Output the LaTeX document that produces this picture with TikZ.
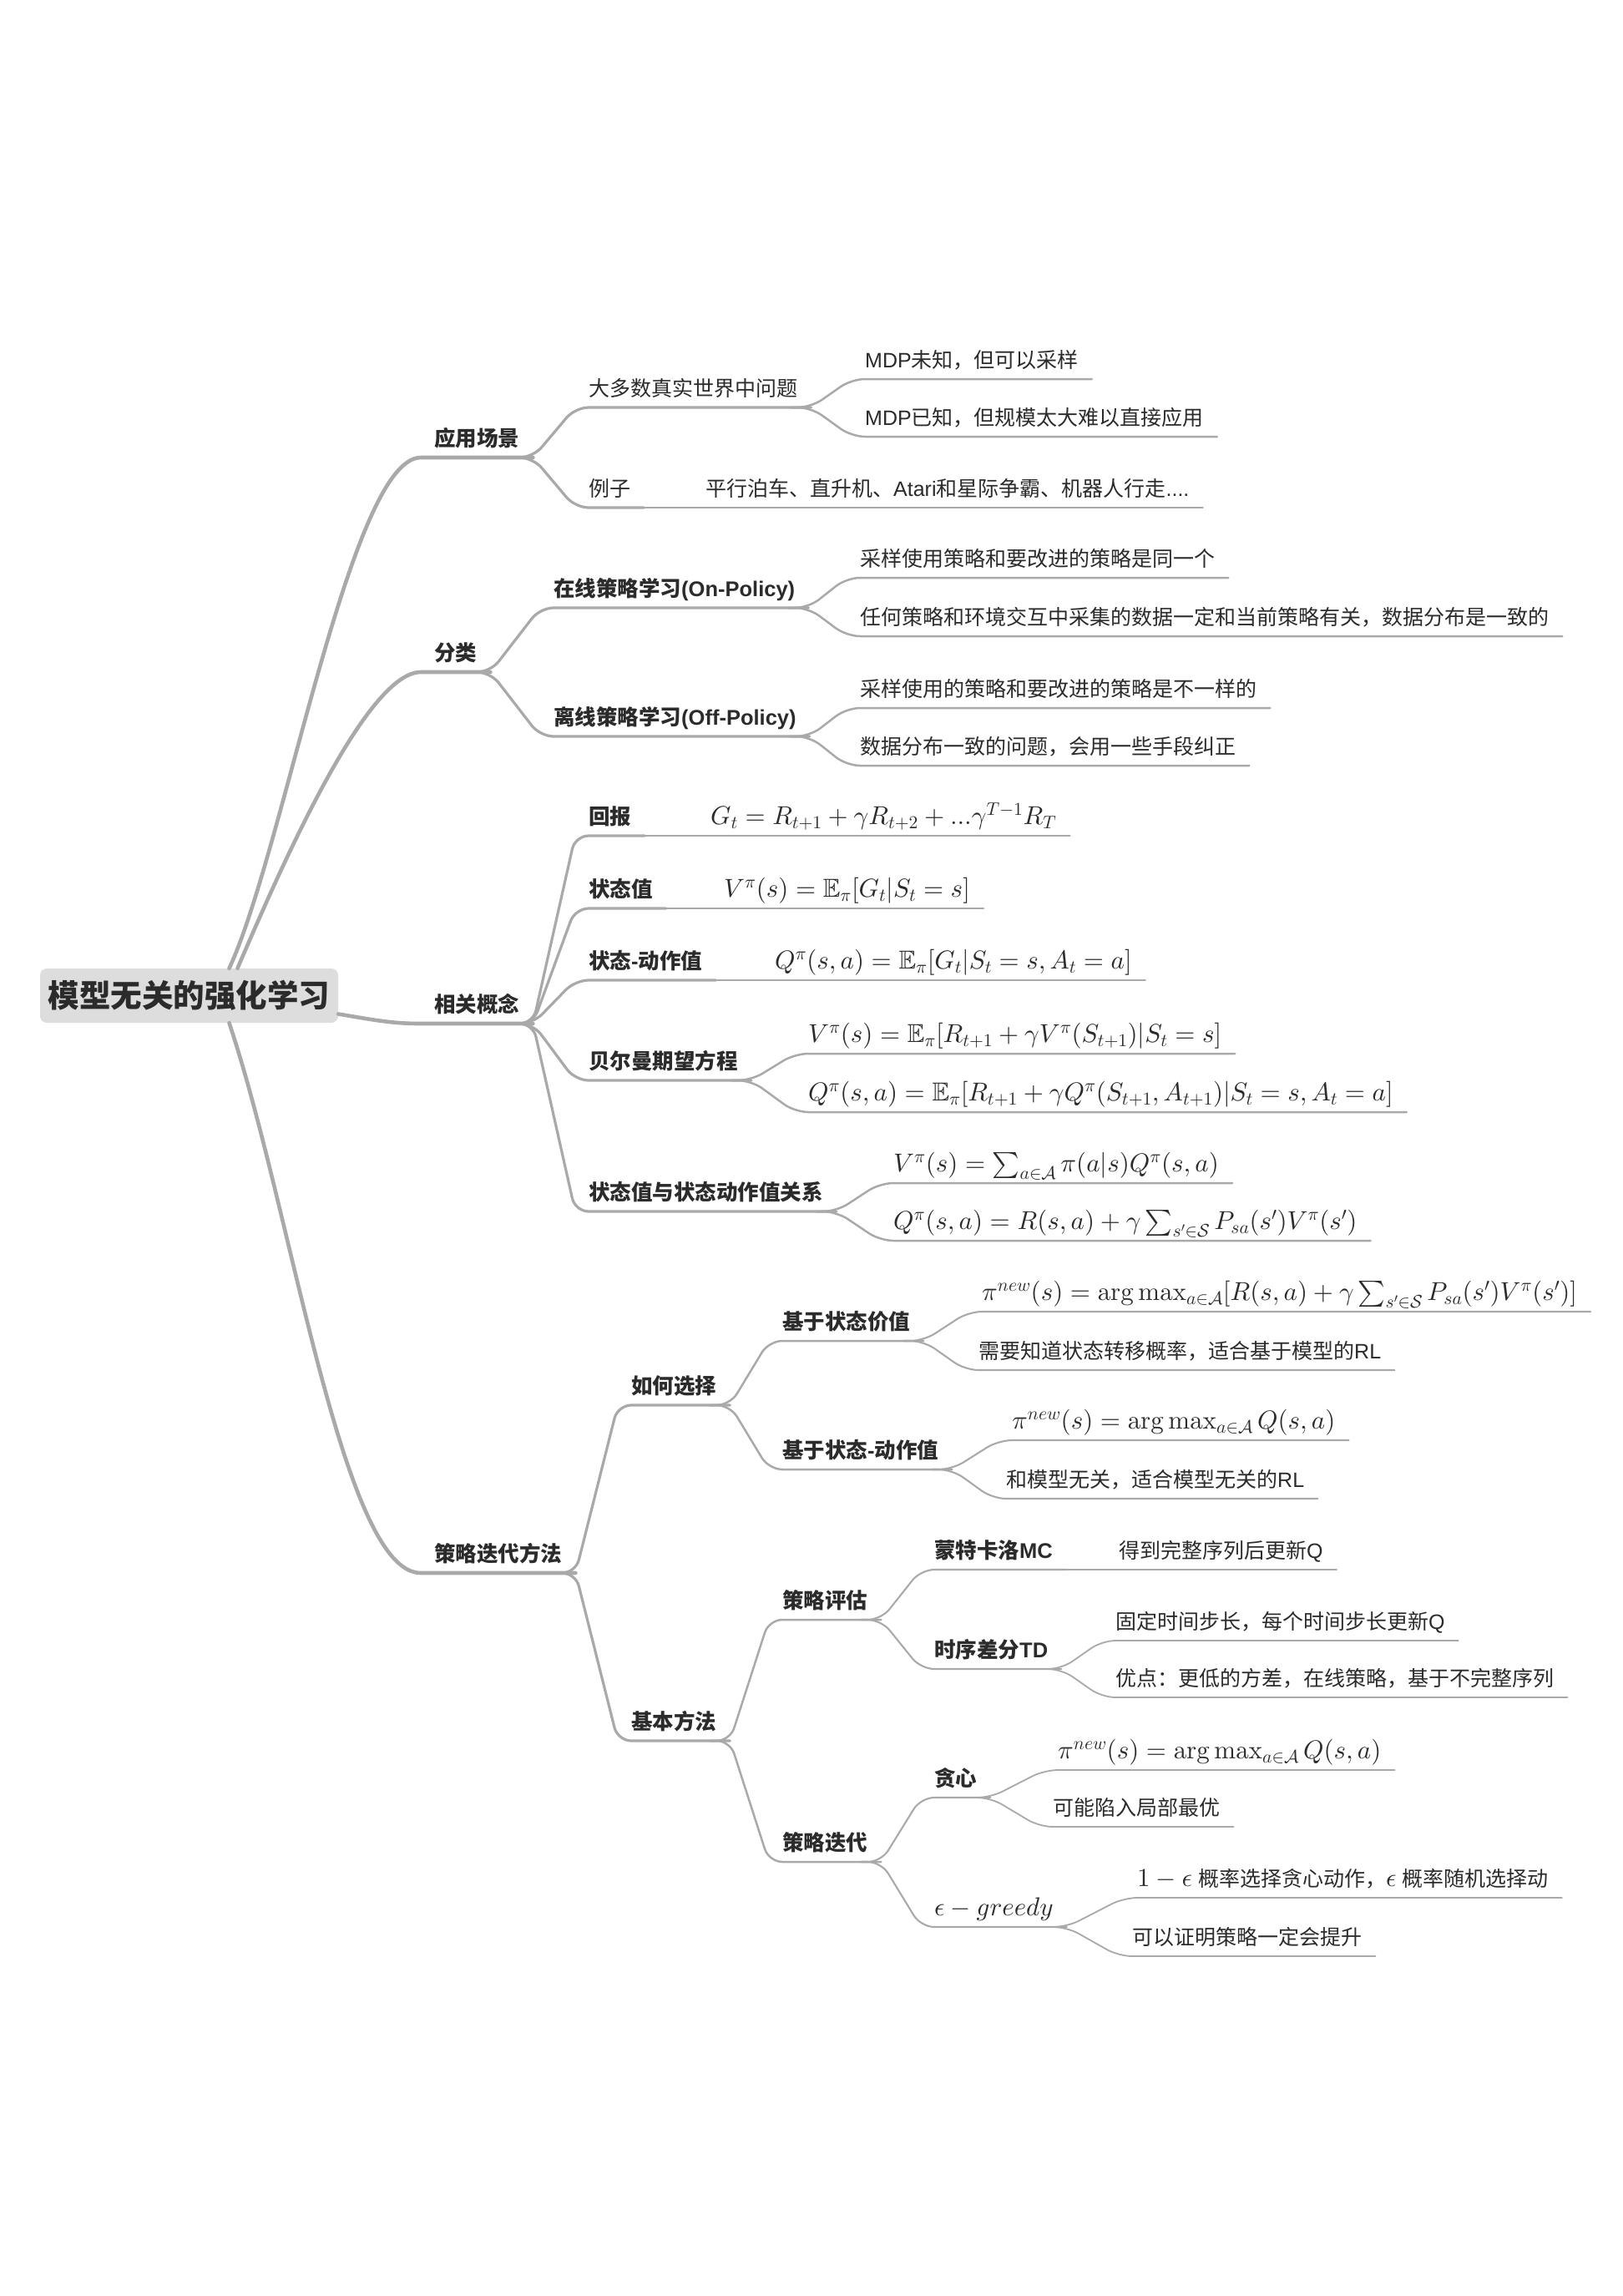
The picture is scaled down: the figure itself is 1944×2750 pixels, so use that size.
\documentclass[tikz,border=0pt]{standalone}
\usepackage{amsmath,amssymb}
\usepackage[no-math]{fontspec}
\DeclareFontShape{OT1}{cmr}{m}{n}{<->cmr10}{}
\DeclareFontShape{OML}{cmm}{m}{it}{<->cmmi10}{}
\DeclareFontShape{OMS}{cmsy}{m}{n}{<->cmsy10}{}
\DeclareFontShape{OMX}{cmex}{m}{n}{<->cmex10}{}
\setmainfont{Liberation Sans}
\newfontfamily\cjk{Noto Sans CJK SC}
\newcommand{\zh}[1]{{\cjk #1}}
\newcommand{\mbig}[1]{{\fontsize{31}{36}\selectfont$#1$}}
\definecolor{ln}{HTML}{A9A9A9}
\definecolor{txt}{HTML}{2B2B2B}
\definecolor{boxc}{HTML}{DDDDDD}
\tikzset{
  base/.style={anchor=south west, inner xsep=16pt, inner ysep=0pt, text depth=13pt, text=txt},
  tx/.style={base, font=\fontsize{25}{30}\selectfont},
  bf/.style={base, font=\fontsize{25.5}{30}\selectfont\bfseries},
  lone/.style={base, font=\fontsize{25.5}{30}\selectfont\bfseries},
  mt/.style={base, font=\fontsize{31}{36}\selectfont},
  rootbox/.style={fill=boxc, rounded corners=8pt, minimum width=357pt, minimum height=65pt, inner sep=0pt, text=txt, font=\fontsize{37.5}{42}\selectfont\bfseries},
  w1/.style={draw=ln, line width=4.6pt, line cap=round},
  w2/.style={draw=ln, line width=3.2pt, line cap=round, rounded corners=16pt},
  w3/.style={draw=ln, line width=2.5pt, line cap=round, rounded corners=16pt},
  w4/.style={draw=ln, line width=2.1pt, line cap=round, rounded corners=16pt},
  w5/.style={draw=ln, line width=1.8pt, line cap=round, rounded corners=16pt},
}
\newcommand{\conn}[3]{\draw[#1] ([xshift=-24pt]#2.south east) -- (#2.south east) -- (#3.south west) -- (#3.south east);}
\begin{document}
\begin{tikzpicture}[x=1pt,y=-1pt]
\useasboundingbox (0,0) rectangle (1944,2750);
\fill[white] (0,0) rectangle (1944,2750);

% root
\node[rootbox] (root) at (226.5,1192.5) {\zh{模型无关的强化学习}};

% level 1
\node[lone] (A) at (504,548) {\zh{应用场景}};
\node[lone] (B) at (504,805) {\zh{分类}};
\node[lone] (C) at (504,1226) {\zh{相关概念}};
\node[lone] (D) at (504,1884) {\zh{策略迭代方法}};

% A subtree
\node[tx] (A1) at (689,488) {\zh{大多数真实世界中问题}};
\node[tx] (A2) at (689,608) {\zh{例子}};
\node[tx] (A2a) at (829,608) {\zh{平行泊车、直升机、}Atari\zh{和星际争霸、机器人行走}....};
\node[tx] (A1a) at (1020,454) {MDP\zh{未知，但可以采样}};
\node[tx] (A1b) at (1020,523) {MDP\zh{已知，但规模太大难以直接应用}};

% B subtree
\node[bf] (B1) at (647,728) {\zh{在线策略学习}(On-Policy)};
\node[bf] (B2) at (647,882) {\zh{离线策略学习}(Off-Policy)};
\node[tx] (B1a) at (1014,692) {\zh{采样使用策略和要改进的策略是同一个}};
\node[tx] (B1b) at (1014,762) {\zh{任何策略和环境交互中采集的数据一定和当前策略有关，数据分布是一致的}};
\node[tx] (B2a) at (1014,848) {\zh{采样使用的策略和要改进的策略是不一样的}};
\node[tx] (B2b) at (1014,917) {\zh{数据分布一致的问题，会用一些手段纠正}};

% C subtree
\node[bf] (C1) at (689,1001) {\zh{回报}};
\node[mt] (C1a) at (835,1001) {$G_t = R_{t+1} + \gamma R_{t+2} + ...\gamma^{T-1}R_T$};
\node[bf] (C2) at (689,1088) {\zh{状态值}};
\node[mt] (C2a) at (851,1088) {$V^\pi(s) = \mathbb{E}_\pi[G_t|S_t=s]$};
\node[bf] (C3) at (689,1174) {\zh{状态}-\zh{动作值}};
\node[mt] (C3a) at (912,1174) {$Q^\pi(s,a) = \mathbb{E}_\pi[G_t|S_t=s,A_t=a]$};
\node[bf] (C4) at (689,1294) {\zh{贝尔曼期望方程}};
\node[mt] (C4a) at (952,1262) {$V^\pi(s) = \mathbb{E}_\pi[R_{t+1}+\gamma V^\pi(S_{t+1})|S_t=s]$};
\node[mt] (C4b) at (952,1332) {$Q^\pi(s,a) = \mathbb{E}_\pi[R_{t+1}+\gamma Q^\pi(S_{t+1},A_{t+1})|S_t=s,A_t=a]$};
\node[bf] (C5) at (689,1451) {\zh{状态值与状态动作值关系}};
\node[mt] (C5a) at (1054,1417) {$V^\pi(s) = \sum_{a\in\mathcal{A}}\pi(a|s)Q^\pi(s,a)$};
\node[mt] (C5b) at (1054,1486) {$Q^\pi(s,a) = R(s,a) + \gamma\sum_{s'\in\mathcal{S}}P_{sa}(s')V^\pi(s')$};

% D subtree
\node[bf] (D1) at (740,1683) {\zh{如何选择}};
\node[bf] (D2) at (740,2085) {\zh{基本方法}};
\node[bf] (D1a) at (921,1606) {\zh{基于状态价值}};
\node[bf] (D1b) at (921,1760) {\zh{基于状态}-\zh{动作值}};
\node[mt] (D1a1) at (1160,1571) {$\pi^{new}(s) = \arg\max_{a\in\mathcal{A}}[R(s,a)+\gamma\sum_{s'\in\mathcal{S}}P_{sa}(s')V^\pi(s')]$};
\node[tx] (D1a2) at (1156,1641) {\zh{需要知道状态转移概率，适合基于模型的}RL};
\node[mt] (D1b1) at (1196,1725) {$\pi^{new}(s) = \arg\max_{a\in\mathcal{A}} Q(s,a)$};
\node[tx] (D1b2) at (1189,1795) {\zh{和模型无关，适合模型无关的}RL};
\node[bf] (D2a) at (921,1940) {\zh{策略评估}};
\node[bf] (D2b) at (921,2230) {\zh{策略迭代}};
\node[bf] (D2a1) at (1103,1880) {\zh{蒙特卡洛}MC};
\node[tx] (D2a1a) at (1324,1880) {\zh{得到完整序列后更新}Q};
\node[bf] (D2a2) at (1103,1999) {\zh{时序差分}TD};
\node[tx] (D2a2a) at (1320,1965) {\zh{固定时间步长，每个时间步长更新}Q};
\node[tx] (D2a2b) at (1320,2033) {\zh{优点：更低的方差，在线策略，基于不完整序列}};
\node[bf] (D2b1) at (1103,2153) {\zh{贪心}};
\node[mt] (D2b1a) at (1251,2120) {$\pi^{new}(s) = \arg\max_{a\in\mathcal{A}} Q(s,a)$};
\node[tx] (D2b1b) at (1245,2188) {\zh{可能陷入局部最优}};
\node[mt] (D2b2) at (1103,2308) {$\epsilon - greedy$};
\node[tx] (D2b2a) at (1346,2273) {\mbig{1-\epsilon} \zh{概率选择贪心动作，}\mbig{\epsilon} \zh{概率随机选择动}};
\node[tx] (D2b2b) at (1340,2343) {\zh{可以证明策略一定会提升}};

% root connectors
\draw[w1] ([xshift=48pt]root.north) .. controls (340,1020) and (420,548) .. (A.south west) -- (A.south east);
\draw[w1] ([xshift=58pt]root.north) .. controls (340,1030) and (440,805) .. (B.south west) -- (B.south east);
\draw[w1] ([yshift=-22pt]root.east) .. controls (450,1222) and (470,1226) .. (C.south west) -- (C.south east);
\draw[w1] ([xshift=48pt]root.south) .. controls (350,1450) and (410,1884) .. (D.south west) -- (D.south east);

% level 2
\conn{w2}{A}{A1}
\conn{w2}{A}{A2}
\conn{w2}{B}{B1}
\conn{w2}{B}{B2}
\conn{w2}{C}{C1}
\conn{w2}{C}{C2}
\conn{w2}{C}{C3}
\conn{w2}{C}{C4}
\conn{w2}{C}{C5}
\conn{w2}{D}{D1}
\conn{w2}{D}{D2}

% level 3
\conn{w3}{A1}{A1a}
\conn{w3}{A1}{A1b}
\conn{w3}{A2}{A2a}
\conn{w3}{B1}{B1a}
\conn{w3}{B1}{B1b}
\conn{w3}{B2}{B2a}
\conn{w3}{B2}{B2b}
\conn{w3}{C1}{C1a}
\conn{w3}{C2}{C2a}
\conn{w3}{C3}{C3a}
\conn{w3}{C4}{C4a}
\conn{w3}{C4}{C4b}
\conn{w3}{C5}{C5a}
\conn{w3}{C5}{C5b}
\conn{w3}{D1}{D1a}
\conn{w3}{D1}{D1b}
\conn{w3}{D2}{D2a}
\conn{w3}{D2}{D2b}

% level 4
\conn{w4}{D1a}{D1a1}
\conn{w4}{D1a}{D1a2}
\conn{w4}{D1b}{D1b1}
\conn{w4}{D1b}{D1b2}
\conn{w4}{D2a}{D2a1}
\conn{w4}{D2a}{D2a2}
\conn{w4}{D2b}{D2b1}
\conn{w4}{D2b}{D2b2}

% level 5
\conn{w5}{D2a1}{D2a1a}
\conn{w5}{D2a2}{D2a2a}
\conn{w5}{D2a2}{D2a2b}
\conn{w5}{D2b1}{D2b1a}
\conn{w5}{D2b1}{D2b1b}
\conn{w5}{D2b2}{D2b2a}
\conn{w5}{D2b2}{D2b2b}
\end{tikzpicture}
\end{document}
